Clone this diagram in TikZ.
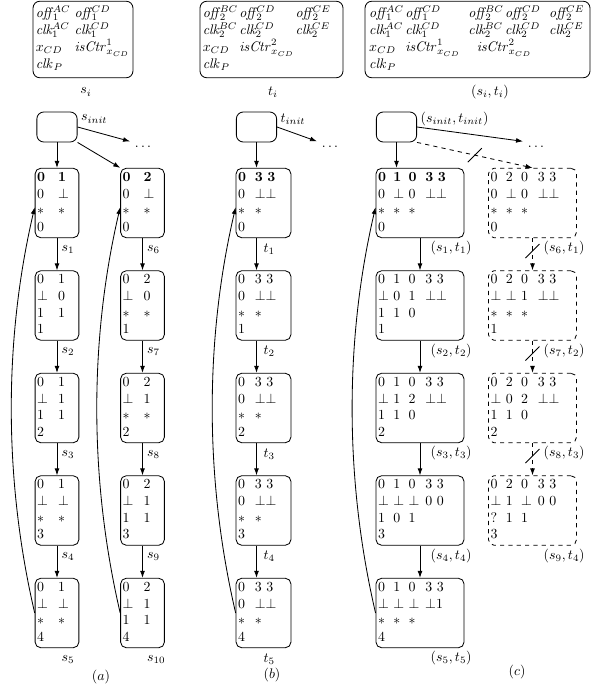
\documentclass[tikz,border=0pt]{standalone}
\usepackage{amsmath}
\usepackage{amssymb}
\usetikzlibrary{arrows.meta}

\newcommand{\ubot}{\ensuremath{\bot}}
\newcommand{\ustar}{\ensuremath{*}}
\newcommand{\voff}[2]{$\mathit{off}\mkern-2mu_{#1}^{#2}$}
\newcommand{\vclk}[2]{$\mathit{clk}\mkern-2mu_{#1}^{#2}$}
\newcommand{\vctr}[1]{$\mathit{isCtr}^{#1}_{x_{CD}}$}
% state tables of the three columns
\newcommand{\stA}[4]{\begin{tabular}{@{}p{8pt}@{\hskip 7pt}p{8pt}@{}}#1\\#2\\#3\\#4\end{tabular}}
\newcommand{\stB}[4]{\begin{tabular}{@{}p{6pt}@{\hskip 6pt}l@{}}#1\\#2\\#3\\#4\end{tabular}}
\newcommand{\stC}[4]{\begin{tabular}{@{}p{8pt}@{\hskip 3pt}p{8pt}@{\hskip 3pt}p{8pt}@{\hskip 4pt}l@{}}#1\\#2\\#3\\#4\end{tabular}}

\begin{document}
\begin{tikzpicture}[x=0.72pt, y=-0.72pt,
    vars/.style={draw, rounded corners=5pt, line width=0.6pt,
                 inner xsep=2pt, align=left, minimum height=55pt},
    initbox/.style={draw, rounded corners=5pt, line width=0.6pt,
                    minimum width=29pt, minimum height=21.6pt},
    state/.style={draw, rounded corners=4pt, line width=0.6pt,
                  inner xsep=1.5pt, inner ysep=0pt,
                  minimum height=50pt, align=left},
    dstate/.style={state, dashed},
    lbl/.style={inner sep=1pt, anchor=west},
    arr/.style={-{Latex[length=5pt,width=3.5pt]}, line width=0.6pt}
]
\useasboundingbox (0,0) rectangle (592,688);

% variable boxes
\node[vars, text width=68pt] (va) at (83,39.5) {%
  \begin{tabular}{@{}l@{\hskip 3pt}l@{}}
  \voff{1}{AC} & \voff{1}{CD}\\
  \vclk{1}{AC} & \vclk{1}{CD}\\
  $x_{CD}$ & \vctr{1}\\
  $\mathit{clk}_P$
  \end{tabular}};
\node[vars, text width=99pt] (vb) at (271.5,39.5) {%
  \begin{tabular}{@{}l@{\hskip 1pt}l@{\hskip 1pt}l@{}}
  \voff{2}{BC} & \voff{2}{CD} & \voff{2}{CE}\\
  \vclk{2}{BC} & \vclk{2}{CD} & \vclk{2}{CE}\\
  $x_{CD}$ & \vctr{2} & \\
  $\mathit{clk}_P$
  \end{tabular}};
\node[vars, inner xsep=3pt, text width=156pt] (vc) at (477.5,39.5) {%
  \begin{tabular}{@{}l@{\hskip 1pt}l@{\hskip 6pt}l@{\hskip 1pt}l@{\hskip 6pt}l@{}}
  \voff{1}{AC} & \voff{1}{CD} & \voff{2}{BC} & \voff{2}{CD} & \voff{2}{CE}\\
  \vclk{1}{AC} & \vclk{1}{CD} & \vclk{2}{BC} & \vclk{2}{CD} & \vclk{2}{CE}\\
  $x_{CD}$ & \vctr{1} & \multicolumn{2}{l}{\vctr{2}} & \\
  $\mathit{clk}_P$
  \end{tabular}};
\node at (86,92) {$s_i$};
\node at (273,92) {$t_i$};
\node at (490,92) {$(s_i,t_i)$};

% (a)
\node[initbox] (ai) at (57,127) {};
\node[lbl] at ([shift={(2,-8)}]ai.east) {$s_{init}$};
\node (adots) at (143,147) {$\ldots$};
\node[state, text width=28.5pt] (a1) at (57,203)
  {\stA{\textbf{0} & \textbf{1}}{0 & \ubot}{\ustar & \ustar}{0}};
\node[state, text width=28.5pt] (a2) at (57,305.5)
  {\stA{0 & 1}{\ubot & 0}{1 & 1}{1}};
\node[state, text width=28.5pt] (a3) at (57,408)
  {\stA{0 & 1}{\ubot & 1}{1 & 1}{2}};
\node[state, text width=28.5pt] (a4) at (57,510.5)
  {\stA{0 & 1}{\ubot & \ubot}{\ustar & \ustar}{3}};
\node[state, text width=28.5pt] (a5) at (57,613)
  {\stA{0 & 1}{\ubot & \ubot}{\ustar & \ustar}{4}};
\node[state, text width=28.5pt] (a6) at (142.5,203)
  {\stA{\textbf{0} & \textbf{2}}{0 & \ubot}{\ustar & \ustar}{0}};
\node[state, text width=28.5pt] (a7) at (142.5,305.5)
  {\stA{0 & 2}{\ubot & 0}{\ustar & \ustar}{1}};
\node[state, text width=28.5pt] (a8) at (142.5,408)
  {\stA{0 & 2}{\ubot & 1}{\ustar & \ustar}{2}};
\node[state, text width=28.5pt] (a9) at (142.5,510.5)
  {\stA{0 & 2}{\ubot & 1}{1 & 1}{3}};
\node[state, text width=28.5pt] (a10) at (142.5,613)
  {\stA{0 & 2}{\ubot & 1}{1 & 1}{4}};
\draw[arr] (ai.east) -- (adots.north west);
\draw[arr] (ai) -- (a1);
\draw[arr] (ai.south east) -- (a6.north west);
\foreach \i [evaluate=\i as \j using int(\i+1)] in {1,...,4,6,7,8,9}
  \draw[arr] (a\i) -- (a\j);
\foreach \i in {1,...,10}
  \node[lbl] at ([shift={(3,11)}]a\i.south) {$s_{\i}$};
\draw[arr] (a5.west) .. controls +(-31,-133) and +(-31,133) .. ([yshift=-3pt]a1.west);
\draw[arr] (a10.west) .. controls +(-31,-133) and +(-31,133) .. ([yshift=-3pt]a6.west);
\node at (101,677) {$(a)$};

% (b)
\node[initbox] (bi) at (256.5,127) {};
\node[lbl] at ([shift={(2,-8)}]bi.east) {$t_{init}$};
\node (bdots) at (330,147) {$\ldots$};
\node[state, text width=36.5pt] (b1) at (263.5,203)
  {\stB{\textbf{0} & \textbf{3 3}}{0 & \ubot\ubot}{\ustar & \ustar}{0}};
\node[state, text width=36.5pt] (b2) at (263.5,305.5)
  {\stB{0 & 3 3}{0 & \ubot\ubot}{\ustar & \ustar}{1}};
\node[state, text width=36.5pt] (b3) at (263.5,408)
  {\stB{0 & 3 3}{0 & \ubot\ubot}{\ustar & \ustar}{2}};
\node[state, text width=36.5pt] (b4) at (263.5,510.5)
  {\stB{0 & 3 3}{0 & \ubot\ubot}{\ustar & \ustar}{3}};
\node[state, text width=36.5pt] (b5) at (263.5,613)
  {\stB{0 & 3 3}{0 & \ubot\ubot}{\ustar & \ustar}{4}};
\draw[arr] (bi.east) -- (bdots.north west);
\draw[arr] (bi) -- (bi |- b1.north);
\foreach \i [evaluate=\i as \j using int(\i+1)] in {1,...,4}
  \draw[arr] (b\i.south -| bi) -- (b\j.north -| bi);
\foreach \i in {1,...,5}
  \node[lbl] at ([shift={(-1.5,11)}]b\i.south) {$t_{\i}$};
\draw[arr] (b5.west) .. controls +(-31,-133) and +(-31,133) .. ([yshift=-3pt]b1.west);
\node at (272,675) {$(b)$};

% (c)
\node[initbox] (ci) at (396.5,127) {};
\node[lbl] at ([shift={(2,-8)}]ci.east) {$(s_{init},t_{init})$};
\node (cdots) at (536,147) {$\ldots$};
\node[state, text width=60.4pt] (c1) at (420,203)
  {\stC{\textbf{0} & \textbf{1} & \textbf{0} & \textbf{3 3}}{0 & \ubot & 0 & \ubot\ubot}{\ustar & \ustar & \ustar}{0}};
\node[state, text width=60.4pt] (c2) at (420,305.5)
  {\stC{0 & 1 & 0 & 3 3}{\ubot & 0 & 1 & \ubot\ubot}{1 & 1 & 0}{1}};
\node[state, text width=60.4pt] (c3) at (420,408)
  {\stC{0 & 1 & 0 & 3 3}{\ubot & 1 & 2 & \ubot\ubot}{1 & 1 & 0}{2}};
\node[state, text width=60.4pt] (c4) at (420,510.5)
  {\stC{0 & 1 & 0 & 3 3}{\ubot & \ubot & \ubot & 0 0}{1 & 0 & 1}{3}};
\node[state, text width=60.4pt] (c5) at (420,613)
  {\stC{0 & 1 & 0 & 3 3}{\ubot & \ubot & \ubot & \ubot{}1}{\ustar & \ustar & \ustar}{4}};
\node[dstate, text width=60.4pt] (d1) at (532.5,203)
  {\stC{0 & 2 & 0 & 3 3}{0 & \ubot & 0 & \ubot\ubot}{\ustar & \ustar & \ustar}{0}};
\node[dstate, text width=60.4pt] (d2) at (532.5,305.5)
  {\stC{0 & 2 & 0 & 3 3}{\ubot & \ubot & 1 & \ubot\ubot}{\ustar & \ustar & \ustar}{1}};
\node[dstate, text width=60.4pt] (d3) at (532.5,408)
  {\stC{0 & 2 & 0 & 3 3}{\ubot & 0 & 2 & \ubot\ubot}{1 & 1 & 0}{2}};
\node[dstate, text width=60.4pt] (d4) at (532.5,510.5)
  {\stC{0 & 2 & 0 & 3 3}{\ubot & 1 & \ubot & 0 0}{? & 1 & 1}{3}};
\draw[arr] (ci.east) -- (cdots.north west);
\draw[arr] (ci) -- (ci |- c1.north);
\draw[arr, dashed] (ci.south east) -- coordinate[pos=.5] (k0) (d1.north);
\foreach \i [evaluate=\i as \j using int(\i+1)] in {1,...,4}
  \draw[arr] (c\i) -- (c\j);
\foreach \i [evaluate=\i as \j using int(\i+1)] in {1,2,3}
  \draw[arr, dashed] (d\i) -- coordinate[pos=.4] (k\i) (d\j);
\foreach \k in {k0,k1,k2,k3}
  \draw[line width=0.6pt] (\k) +(-7,7) -- +(7,-7);
\foreach \i in {1,...,5}
  \node[lbl] at ([shift={(9,10)}]c\i.south) {$(s_{\i},t_{\i})$};
\foreach \i/\s in {1/6,2/7,3/8,4/9}
  \node[lbl] at ([shift={(9.5,10)}]d\i.south) {$(s_{\s},t_{\i})$};
\draw[arr] (c5.west) .. controls +(-31,-133) and +(-31,133) .. ([yshift=-3pt]c1.west);
\node at (517,672) {$(c)$};
\end{tikzpicture}
\end{document}
